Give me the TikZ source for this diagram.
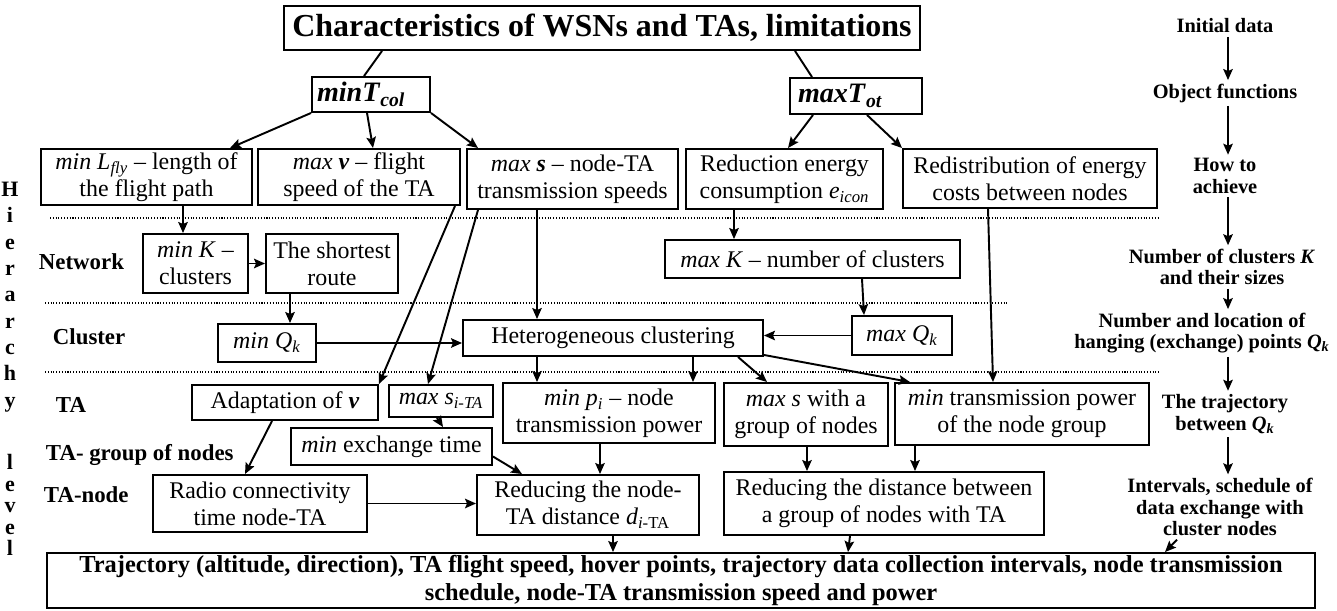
\documentclass[tikz,border=0pt]{standalone}
\usepackage{fontspec}
\setmainfont{Liberation Serif}
\usetikzlibrary{arrows.meta}
\newlength\px
\setlength\px{0.02cm}
\begin{document}
\begin{tikzpicture}[->,x=0.02cm,y=-0.02cm,line width=1.1pt,>={Stealth[length=0.22cm,width=0.19cm,inset=0.04cm]},
    box/.style 2 args={draw,inner sep=0pt,minimum width=#1\px,minimum height=#2\px,align=center,font=\fontsize{13.6}{15.4}\selectfont},
    note/.style={inner sep=1.5pt,align=center,font=\fontsize{11.6}{12.4}\selectfont\bfseries},
    lvl/.style={anchor=west,inner sep=0pt,font=\fontsize{13}{15}\selectfont\bfseries},
    sep/.style={-,line width=0.6pt,densely dotted}]
    \useasboundingbox (0,0) rectangle (1337,611);
    % top
    \node[box={636}{44},font=\fontsize{18.2}{20}\selectfont\bfseries] (title) at (602,28) {Characteristics of WSNs and TAs, limitations};
    \node[box={118}{35},text width=108\px,align=left,font=\fontsize{16}{18}\selectfont\bfseries] (mincol) at (371,94.5) {\textit{minT}\textsubscript{\textit{col}}};
    \node[box={132}{36},text width=116\px,align=left,font=\fontsize{16}{18}\selectfont\bfseries] (maxot) at (856,96) {\textit{maxT}\textsubscript{\textit{ot}}};
    \node[box={211}{56}] (lfly) at (146.5,177) {\textit{min L}\textsubscript{\textit{fly}} -- length of\\the flight path};
    \node[box={202}{56}] (maxv) at (359,177) {\textit{max} \textbf{\textit{v}} -- flight\\speed of the TA};
    \node[box={211}{60}] (maxs) at (572.5,179) {\textit{max} \textbf{\textit{s}} -- node-TA\\transmission speeds};
    \node[box={197}{60}] (redcon) at (784.5,179) {Reduction energy\\consumption \textit{e}\textsubscript{\textit{icon}}};
    \node[box={254}{59}] (redist) at (1030,178.5) {Redistribution of energy\\costs between nodes};
    % network
    \node[box={105}{59}] (mink) at (195.5,263.5) {\textit{min K} --\\clusters};
    \node[box={132}{59}] (route) at (332,263.5) {The shortest\\route};
    \node[box={295}{38}] (maxk) at (812.5,259) {\textit{max K} -- number of clusters};
    % cluster
    \node[box={98}{38}] (minq) at (267,343) {\textit{min Q}\textsubscript{\textit{k}}};
    \node[box={300}{36}] (hetero) at (613,338) {Heterogeneous clustering};
    \node[box={100}{39}] (maxq) at (902,335.5) {\textit{max Q}\textsubscript{\textit{k}}};
    % TA
    \node[box={186}{35}] (adapt) at (285,402.5) {Adaptation of \textbf{\textit{v}}};
    \node[box={104}{32}] (msita) at (441,401) {\textit{max s}\textsubscript{\textit{i-TA}}};
    \node[box={212}{60}] (minp) at (609,413) {\textit{min p}\textsubscript{\textit{i}} -- node\\transmission power};
    \node[box={164}{63}] (msgrp) at (806,414.5) {\textit{max s} with a\\group of nodes};
    \node[box={254}{62}] (mintp) at (1022,414) {\textit{min} transmission power\\of the node group};
    \node[box={201}{37}] (mexch) at (391.5,446.5) {\textit{min} exchange time};
    % TA-node
    \node[box={214}{57}] (radio) at (260,503.5) {Radio connectivity\\time node-TA};
    \node[box={222}{60}] (rednode) at (588,505) {Reducing the node-\\TA distance \textit{d}\textsubscript{\textit{i}-TA}};
    \node[box={320}{63}] (redgrp) at (884,503.5) {Reducing the distance between\\a group of nodes with TA};
    \node[box={1268}{55},font=\fontsize{13.9}{15.4}\selectfont\bfseries] (result) at (681,580.5) {Trajectory (altitude, direction), TA flight speed, hover points, trajectory data collection intervals, node transmission\\schedule, node-TA transmission speed and power};
    % levels
    \draw[sep] (50,218) -- (1160,218);
    \draw[sep] (45,303) -- (1007,303);
    \draw[sep] (45,372) -- (1160,372);
    \node[inner sep=0pt,align=center,font=\fontsize{12.5}{15}\selectfont\bfseries] (hier) at (10,297) {H\\i\\e\\r\\a\\r\\c\\h\\y};
    \node[inner sep=0pt,align=center,font=\fontsize{12.5}{12.2}\selectfont\bfseries] (level) at (10,505) {l\\e\\v\\e\\l};
    \node[lvl] (network) at (38,262) {Network};
    \node[lvl] (cluster) at (52,337) {Cluster};
    \node[lvl] (ta) at (55,405) {TA};
    \node[lvl] (tagrp) at (45,455) {TA- group of nodes};
    \node[lvl] (tanode) at (43,495) {TA-node};
    % right column
    \node[note] (r1) at (1225,26) {Initial data};
    \node[note] (r2) at (1225,93) {Object functions};
    \node[note] (r3) at (1225,176) {How to\\achieve};
    \node[note] (r4) at (1222,267) {Number of clusters \textit{K}\\and their sizes};
    \node[note] (r5) at (1202,333) {Number and location of\\hanging (exchange) points \textit{Q}\textsubscript{\textit{k}}};
    \node[note] (r6) at (1225,414) {The trajectory\\between \textit{Q}\textsubscript{\textit{k}}};
    \node[note] (r7) at (1220,507) {Intervals, schedule of\\data exchange with\\cluster nodes};
    \foreach \a/\b in {r1/r2,r2/r3,r3/r4,r4/r5,r5/r6,r6/r7}
        \draw (\a.south -| 1228,0) -- (\b.north -| 1228,0);
    \draw (r7.south -| 1177,0) -- (result.north -| 1165,0);
    % arrows
    \draw[-] (title.south -| 382,0) -- (mincol.north -| 364,0);
    \draw[-] (title.south -| 795,0) -- (maxot.north -| 812,0);
    \draw (mincol.south west) -- (lfly.north -| 230,0);
    \draw (mincol.south -| 367,0) -- (maxv.north -| 373,0);
    \draw (mincol.south east) -- (maxs.north -| 478,0);
    \draw (maxot.south -| 813,0) -- (redcon.north -| 788,0);
    \draw (maxot.south -| 867,0) -- (redist.north west);
    \draw (lfly.south -| 183,0) -- (mink.north -| 183,0);
    \draw (mink.east) -- (route.west);
    \draw (route.south -| 290,0) -- (minq.north -| 290,0);
    \draw (minq.east) -- (minq.east -| hetero.west);
    \draw (maxv.south -| 455,0) -- (adapt.north east);
    \draw (maxs.south -| 478,0) -- (msita.north -| 428,0);
    \draw (maxs.south -| 537,0) -- (hetero.north -| 537,0);
    \draw (redcon.south -| 734,0) -- (maxk.north -| 734,0);
    \draw (maxk.south -| 862,0) -- (maxq.north -| 864,0);
    \draw (maxq.west) -- (maxq.west -| hetero.east);
    \draw (redist.south -| 988,0) -- (mintp.north -| 993,0);
    \draw (hetero.south -| 537,0) -- (minp.north -| 537,0);
    \draw (hetero.south -| 693,0) -- (minp.north -| 693,0);
    \draw (hetero.south -| 738,0) -- (msgrp.north -| 767,0);
    \draw ([yshift=2\px]hetero.south east) -- (mintp.north -| 910,0);
    \draw (msita.south -| 437,0) -- (mexch.north -| 443,0);
    \draw (adapt.south -| 272,0) -- (radio.north -| 245,0);
    \draw ([yshift=-10\px]mexch.east) -- (rednode.north -| 522,0);
    \draw (radio.east) -- (radio.east -| rednode.west);
    \draw (minp.south -| 600,0) -- (rednode.north -| 600,0);
    \draw (msgrp.south -| 807,0) -- (redgrp.north -| 807,0);
    \draw (mintp.south -| 915,0) -- (redgrp.north -| 915,0);
    \draw (rednode.south -| 613,0) -- (result.north -| 613,0);
    \draw (redgrp.south -| 850,0) -- (result.north -| 848,0);
\end{tikzpicture}
\end{document}
